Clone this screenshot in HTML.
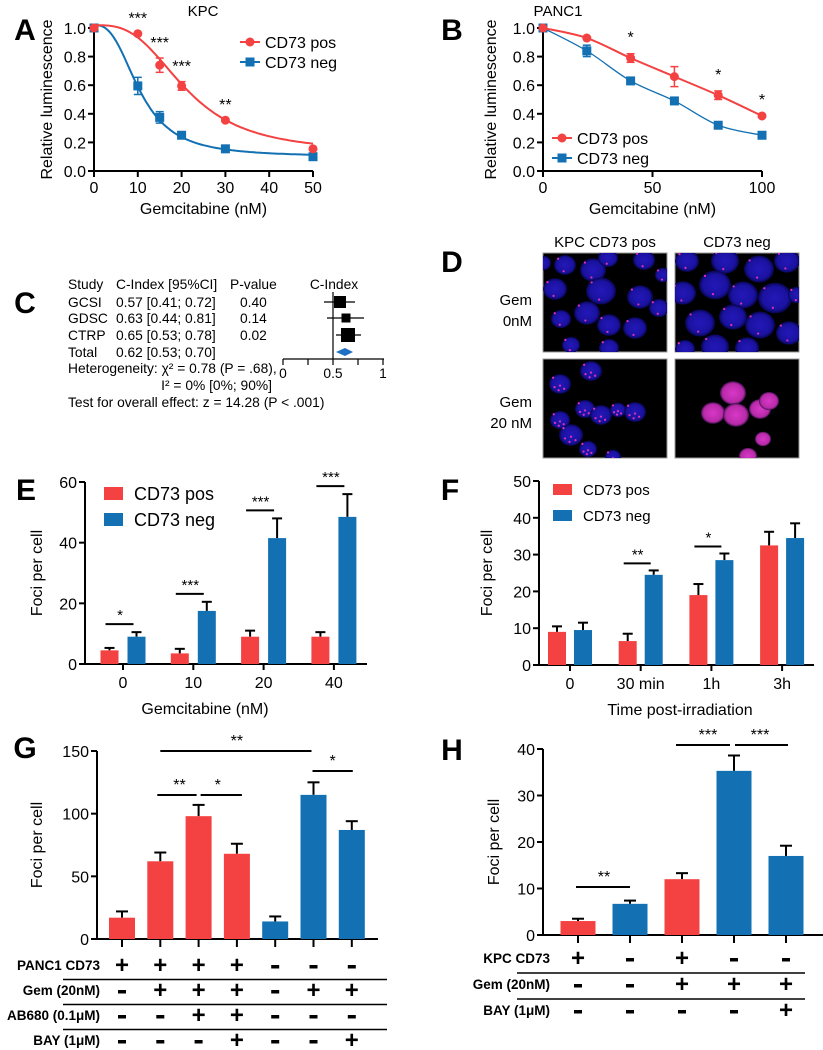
<!DOCTYPE html>
<html><head><meta charset="utf-8">
<style>
html,body{margin:0;padding:0;background:#fff;}
svg{display:block;font-family:"Liberation Sans",Arial,sans-serif;}
</style></head>
<body>
<svg id="fig" width="823" height="1050" viewBox="0 0 823 1050" xmlns="http://www.w3.org/2000/svg">
<defs>
<radialGradient id="gb"><stop offset="0" stop-color="#2418b8"/><stop offset="0.75" stop-color="#1a12a0"/><stop offset="1" stop-color="#080550"/></radialGradient>
<radialGradient id="gm"><stop offset="0" stop-color="#d838c8"/><stop offset="0.8" stop-color="#b82aa8"/><stop offset="1" stop-color="#401050"/></radialGradient>
<clipPath id="c0"><rect x="543" y="253" width="124" height="99"/></clipPath>
<clipPath id="c1"><rect x="675" y="253" width="124" height="99"/></clipPath>
<clipPath id="c2"><rect x="543" y="359" width="124" height="99"/></clipPath>
<clipPath id="c3"><rect x="675" y="359" width="124" height="99"/></clipPath>
</defs>
</svg>
<script>
// ---------- data ----------
const aDoses=[0,10,15,20,30,50];
const aPos=[1.0,0.96,0.74,0.595,0.355,0.155];
const aPosErr=[0,0,0.05,0.03,0,0];
const aNeg=[1.0,0.595,0.375,0.25,0.155,0.1];
const aNegErr=[0,0.06,0.04,0,0.02,0];
const aStars=['','***','***','***','**',''];
const aXTicks=[0,10,20,30,40,50];
const lumTicks=[0,0.2,0.4,0.6,0.8,1.0];
// fitted curve parameters [bottom, top, EC50, hill]
const aPosFit=[0.13,1.02,21,3];
const aNegFit=[0.1,1.02,10.5,2.7];

const bDoses=[0,20,40,60,80,100];
const bPos=[1.0,0.93,0.79,0.66,0.53,0.385];
const bPosErr=[0,0,0.03,0.07,0.03,0];
const bNeg=[1.0,0.84,0.63,0.49,0.32,0.25];
const bNegErr=[0,0.04,0,0,0,0];
const bStars=['','','*','','*','*'];
const bXTicks=[0,50,100];

const cStudies=['GCSI','GDSC','CTRP'];
const cEst=[0.57,0.63,0.65];
const cLo=[0.41,0.44,0.53];
const cHi=[0.72,0.81,0.78];
const cWeight=[12,9,14];
const cTotal=[0.62,0.53,0.70];

const eCats=['0','10','20','40'];
const ePos=[4.5,3.5,9,9];
const ePosErr=[0.8,1.5,2,1.5];
const eNeg=[9,17.5,41.5,48.5];
const eNegErr=[1.5,3,6.5,7.5];
const eStars=['*','***','***','***'];
const eTicks=[0,20,40,60];

const fCats=['0','30 min','1h','3h'];
const fPos=[9,6.5,19,32.5];
const fPosErr=[1.5,2,3,3.7];
const fNeg=[9.5,24.5,28.5,34.5];
const fNegErr=[2,1.2,1.8,4];
const fStars=['','**','*',''];
const fTicks=[0,10,20,30,40,50];

const gVals=[17,62,98,68,14,115,87];
const gErr=[5,7,9,8,4,10,7];
const gCol=['r','r','r','r','b','b','b'];
const gTicks=[0,50,100,150];
const gRowLabels=['PANC1 CD73','Gem (20nM)','AB680 (0.1\u03bcM)','BAY (1\u03bcM)'];
const gRows=[['+','+','+','+','-','-','-'],['-','+','+','+','-','+','+'],['-','-','+','+','-','-','-'],['-','-','-','+','-','-','+']];
const gSig=[[1,5,'**'],[5,6,'*'],[1,2,'**'],[2,3,'*']];

const hVals=[3,6.7,12,35.3,17];
const hErr=[0.5,0.7,1.3,3.3,2.2];
const hCol=['r','b','r','b','b'];
const hTicks=[0,10,20,30,40];
const hRowLabels=['KPC CD73','Gem (20nM)','BAY (1\u03bcM)'];
const hRows=[['+','-','+','-','-'],['-','-','+','+','+'],['-','-','-','-','+']];
const hSig=[[0,1,'**'],[2,3,'***'],[3,4,'***']];

// ---------- helpers ----------
const NS='http://www.w3.org/2000/svg';
const svg=document.getElementById('fig');
const RED='#f44141', BLUE='#1270b3';
function mk(tag,attrs,name,parent,txt){
  const el=document.createElementNS(NS,tag);
  for(const k in attrs) el.setAttribute(k,attrs[k]);
  
  
  if(txt!==undefined) el.textContent=txt;
  (parent||svg).appendChild(el);
  return el;
}
function grp(name){return mk('g',{},name);}
function line(p,x1,y1,x2,y2,name,w,c){return mk('line',{x1,y1,x2,y2,stroke:c||'#000','stroke-width':w||2},name,p);}
function text(p,x,y,s,name,size,anchor,extra){
  const a=Object.assign({x,y,'font-size':size||15,'text-anchor':anchor||'middle',fill:'#000'},extra||{});
  return mk('text',a,name,p,s);
}
function panelLetter(x,y,s){text(svg,x,y,s,'panel-label-'+s.toLowerCase(),30,'middle',{'font-weight':'bold'});}
function yAxis(p,x,ys,ticks,fmt,top,bottom){
  line(p,x,top,x,bottom,'y-axis-line');
  ticks.forEach(t=>{const y=ys(t);line(p,x-6,y,x,y,'y-tick');text(p,x-8,y+6,fmt(t),'y-tick-label',16,'end');});
}
function smooth(pts){
  let d='M'+pts[0][0]+','+pts[0][1];
  for(let i=0;i<pts.length-1;i++){
    const p0=pts[i-1]||pts[i],p1=pts[i],p2=pts[i+1],p3=pts[i+2]||p2;
    const c1=[p1[0]+(p2[0]-p0[0])/6,p1[1]+(p2[1]-p0[1])/6];
    const c2=[p2[0]-(p3[0]-p1[0])/6,p2[1]-(p3[1]-p1[1])/6];
    d+=' C'+c1+' '+c2+' '+p2;
  }
  return d;
}
function logistic(f,x){return f[0]+(f[1]-f[0])/(1+Math.pow(x/f[2],f[3]));}

// ---------- dose-response panels ----------
function doseResponse(opt){
  const p=grp(opt.name);
  const xs=v=>opt.x0+(v-opt.xmin)/(opt.xmax-opt.xmin)*(opt.x1-opt.x0);
  const ys=v=>opt.y0-v*(opt.y0-opt.y1);
  text(p,opt.titleX,16,opt.title,'chart-title',15);
  yAxis(p,opt.x0,ys,lumTicks,t=>t.toFixed(1),opt.y1-3,opt.y0);
  line(p,opt.x0,opt.y0,opt.x1,opt.y0,'x-axis-line');
  opt.xticks.forEach(t=>{line(p,xs(t),opt.y0,xs(t),opt.y0+6,'x-tick');text(p,xs(t),opt.y0+22,String(t),'x-tick-label',16);});
  text(p,(opt.x0+opt.x1)/2,opt.y0+43,'Gemcitabine (nM)','x-axis-title',16);
  text(p,0,0,'Relative luminescence','y-axis-title',16,'middle',{transform:'translate('+opt.ylx+','+((opt.y0+opt.y1)/2)+') rotate(-90)'});
  const series=[[opt.neg,opt.negErr,BLUE,'sq','neg',opt.negFit],[opt.pos,opt.posErr,RED,'ci','pos',opt.posFit]];
  series.forEach(([vals,err,col,shape,nm,fit])=>{
    let d;
    if(fit){
      d='';
      for(let k=0;k<=100;k++){const xv=opt.xmin+(opt.xmax-opt.xmin)*k/100;d+=(k?' L':'M')+xs(xv).toFixed(1)+','+ys(logistic(fit,xv)).toFixed(1);}
    } else d=smooth(opt.doses.map((dd,i)=>[xs(dd),ys(vals[i])]));
    mk('path',{d,fill:'none',stroke:col,'stroke-width':opt.thin&&nm==='neg'?1.3:2},'curve-'+nm,p);
    opt.doses.forEach((dd,i)=>{
      const x=xs(dd),y=ys(vals[i]);
      if(err[i]>0){const e=err[i]*(opt.y0-opt.y1);
        line(p,x,y-e,x,y+e,'error-bar-'+nm,1.5,col);line(p,x-4,y-e,x+4,y-e,'error-cap-'+nm,1.5,col);line(p,x-4,y+e,x+4,y+e,'error-cap-'+nm,1.5,col);}
      if(shape==='ci') mk('circle',{cx:x,cy:y,r:4.5,fill:col},'point-'+nm,p);
      else mk('rect',{x:x-4.5,y:y-4.5,width:9,height:9,fill:col},'point-'+nm,p);
    });
  });
  opt.doses.forEach((dd,i)=>{ if(opt.stars[i]){const top=ys(opt.pos[i]+opt.posErr[i]);text(p,xs(dd),top-opt.starGap,opt.stars[i],'significance-stars',16);} });
  const L=opt.leg;
  [[RED,'CD73 pos','ci',0],[BLUE,'CD73 neg','sq',1]].forEach(([col,lab,sh,k])=>{
    const y=L.y+k*L.dy;
    line(p,L.x,y,L.x+20,y,'legend-line',2,col);
    if(sh==='ci') mk('circle',{cx:L.x+10,cy:y,r:4.5,fill:col},'legend-marker',p);
    else mk('rect',{x:L.x+5.5,y:y-4.5,width:9,height:9,fill:col},'legend-marker',p);
    text(p,L.x+25,y+6,lab,'legend-label',16,'start');
  });
}
doseResponse({name:'panel-a-chart',title:'KPC',titleX:203,x0:94,x1:313,y0:171,y1:28,xmin:0,xmax:50,doses:aDoses,pos:aPos,posErr:aPosErr,neg:aNeg,negErr:aNegErr,posFit:aPosFit,negFit:aNegFit,stars:aStars,xticks:aXTicks,ylx:52,starGap:10,leg:{x:240,y:42,dy:20}});
doseResponse({name:'panel-b-chart',title:'PANC1',titleX:558,x0:543,x1:762,y0:171,y1:28,xmin:0,xmax:100,doses:bDoses,pos:bPos,posErr:bPosErr,neg:bNeg,negErr:bNegErr,stars:bStars,xticks:bXTicks,ylx:496,starGap:11,thin:true,leg:{x:552,y:138,dy:20}});
panelLetter(25,40,'A');panelLetter(452,40,'B');

// ---------- panel C forest ----------
(function(){
  const p=grp('panel-c-forest');
  panelLetter(25,313,'C');
  const fs=13.8;
  text(p,68,289,'Study','table-header',fs,'start');
  text(p,116,289,'C-Index [95%CI]','table-header',fs,'start');
  text(p,230,289,'P-value','table-header',fs,'start');
  text(p,334,289,'C-Index','table-header',fs,'middle');
  const rowsY=[307,323,340];
  const pv=['0.40','0.14','0.02'];
  const xs=v=>283+v*100;
  cStudies.forEach((s,i)=>{
    text(p,68,rowsY[i],s,'study-name',fs,'start');
    text(p,116,rowsY[i],cEst[i].toFixed(2)+' ['+cLo[i].toFixed(2)+'; '+cHi[i].toFixed(2)+']','study-ci',fs,'start');
    text(p,240,rowsY[i],pv[i],'study-p-value',fs,'start');
    const y=rowsY[i]-5;
    line(p,xs(cLo[i]),y,xs(cHi[i]),y,'ci-line',1.2);
    const w=cWeight[i];
    mk('rect',{x:xs(cEst[i])-w/2,y:y-w/2,width:w,height:w,fill:'#000'},'study-square',p);
  });
  text(p,68,357,'Total','study-name',fs,'start');
  text(p,116,357,cTotal[0].toFixed(2)+' ['+cTotal[1].toFixed(2)+'; '+cTotal[2].toFixed(2)+']','total-ci',fs,'start');
  const ty=352;
  mk('polygon',{points:[xs(cTotal[1]),ty,xs(cTotal[0]),ty-4,xs(cTotal[2]),ty,xs(cTotal[0]),ty+4].join(','),fill:'#1f6fc4'},'total-diamond',p);
  line(p,333,292,333,359,'reference-line',1.2);
  line(p,283,359,384,359,'forest-x-axis',1.2);
  [0,0.25,0.5,0.75,1].forEach(t=>line(p,xs(t),359,xs(t),365,'forest-tick',1.2));
  [[0,'0'],[0.5,'0.5'],[1,'1']].forEach(([t,s])=>text(p,xs(t),378,s,'forest-tick-label',fs));
  mk('text',{x:68,y:373,'font-size':fs},'heterogeneity-text',p,'Heterogeneity: \u03c7\u00b2 = 0.78 (P = .68),');
  text(p,272,390,'I\u00b2 = 0% [0%; 90%]','i2-text',fs,'end');
  text(p,68,407,'Test for overall effect: z = 14.28 (P < .001)','overall-effect-text',fs,'start');
})();

// ---------- panel D microscopy ----------
(function(){
  const p=grp('panel-d-images');
  panelLetter(452,272,'D');
  text(p,605,247,'KPC CD73 pos','column-label',15);
  text(p,737,247,'CD73 neg','column-label',15);
  text(p,532,305,'Gem','row-label',15,'end');text(p,532,326,'0nM','row-label',15,'end');
  text(p,532,407,'Gem','row-label',15,'end');text(p,532,428,'20 nM','row-label',15,'end');
  const boxes=[[543,253],[675,253],[543,359],[675,359]];
  boxes.forEach(([x,y],k)=>mk('rect',{x,y,width:124,height:99,fill:'#000',stroke:'#999','stroke-width':1},'micrograph-'+(k+1),p));
  const cells=[
   [[22,12,11],[50,17,13],[65,5,10],[101,7,11],[12,36,12],[58,38,15],[97,44,13],[44,60,13],[66,72,12],[116,55,10],[18,66,10],[92,75,12],[66,95,10],[28,92,9],[120,22,8],[0,10,8]],
   [[12,8,12],[50,8,14],[84,16,15],[112,8,13],[8,40,13],[40,32,16],[68,42,15],[100,45,17],[25,70,15],[58,64,14],[85,72,15],[114,80,13],[40,94,14],[72,95,12],[10,96,10],[122,42,9]],
   [[48,12,11],[17,25,11],[42,50,10],[58,56,11],[75,51,8],[92,53,11],[17,61,10],[28,76,12],[45,90,9],[70,98,8]],
   [[58,34,13],[38,54,12],[61,56,13],[85,50,11],[94,42,10],[88,80,8],[73,97,9]]
  ];
  cells.forEach((list,k)=>{
    const [bx,by]=boxes[k];
    const cg=mk('g',{'clip-path':'url(#c'+k+')'},'micrograph-content',p);
    list.forEach(([cx,cy,r])=>{
      const mag=k===3;
      mk('ellipse',{cx:bx+cx,cy:by+cy,rx:r,ry:r*0.9,fill:mag?'url(#gm)':'url(#gb)'},'nucleus',cg);
      const nd=k===2?5:(k<2?2:0);
      for(let j=0;j<nd;j++){
        mk('circle',{cx:bx+cx+((j*37)%11-5)*r/8,cy:by+cy+((j*53)%9-4)*r/7,r:1.1,fill:'#e030b8'},'focus-dot',cg);
      }
    });
  });
})();

// ---------- grouped bar panels E & F ----------
function grouped(opt){
  const p=grp(opt.name);
  const ys=v=>opt.y0-v/opt.ymax*(opt.y0-opt.y1);
  yAxis(p,opt.x0,ys,opt.ticks,String,opt.y1,opt.y0);
  line(p,opt.x0,opt.y0,opt.x1,opt.y0,'x-axis-line');
  text(p,0,0,'Foci per cell','y-axis-title',16,'middle',{transform:'translate('+opt.ylx+','+((opt.y0+opt.y1)/2)+') rotate(-90)'});
  text(p,opt.xlabelX,opt.y0+50,opt.xlabel,'x-axis-title',16);
  opt.cats.forEach((c,i)=>{
    const cx=opt.cx0+i*opt.step;
    line(p,cx,opt.y0,cx,opt.y0+6,'x-tick');
    text(p,cx,opt.y0+24,c,'x-tick-label',16);
    [[opt.pos,opt.posErr,RED,-1,'pos'],[opt.neg,opt.negErr,BLUE,1,'neg']].forEach(([v,e,col,sgn,nm])=>{
      const bx=cx+sgn*opt.off-opt.bw/2, y=ys(v[i]);
      const ye=ys(v[i]+e[i]);
      line(p,bx+opt.bw/2,ye,bx+opt.bw/2,y,'error-bar-'+nm,2);
      line(p,bx+opt.bw/2-5,ye,bx+opt.bw/2+5,ye,'error-cap-'+nm,2);
      mk('rect',{x:bx,y:y,width:opt.bw,height:opt.y0-y,fill:col},'bar-'+nm+'-'+c.replace(' ',''),p);
    });
    if(opt.stars[i]){
      const top=ys(opt.neg[i]+opt.negErr[i])-opt.sigGap;
      line(p,cx-opt.off-4,top,cx+opt.off-3,top,'significance-line',2);
      text(p,cx-3,top-4,opt.stars[i],'significance-stars',15);
    }
  });
  const L=opt.leg;
  [[RED,'CD73 pos',0],[BLUE,'CD73 neg',1]].forEach(([col,lab,k])=>{
    mk('rect',{x:L.x,y:L.y+k*L.dy,width:L.w,height:L.h,fill:col},'legend-swatch',p);
    text(p,L.x+L.w+11,L.y+k*L.dy+L.h,lab,'legend-label',L.fs,'start');
  });
}
grouped({name:'panel-e-chart',x0:85,x1:367,y0:664,y1:482,ymax:60,ticks:eTicks,cats:eCats,pos:ePos,posErr:ePosErr,neg:eNeg,negErr:eNegErr,stars:eStars,cx0:123,step:70.3,off:13.5,bw:18,ylx:42,xlabel:'Gemcitabine (nM)',xlabelX:205,sigGap:8,leg:{x:104,y:487,dy:26,w:19,h:13,fs:18}});
grouped({name:'panel-f-chart',x0:539,x1:814,y0:665,y1:481,ymax:50,ticks:fTicks,cats:fCats,pos:fPos,posErr:fPosErr,neg:fNeg,negErr:fNegErr,stars:fStars,cx0:570,step:70.7,off:13,bw:18,ylx:492,xlabel:'Time post-irradiation',xlabelX:680,sigGap:7,leg:{x:553,y:484,dy:26,w:19,h:11,fs:15}});
panelLetter(26,500,'E');panelLetter(450,500,'F');

// ---------- single bar panels G & H ----------
function single(opt){
  const p=grp(opt.name);
  const ys=v=>opt.y0-v/opt.ymax*(opt.y0-opt.y1);
  yAxis(p,opt.x0,ys,opt.ticks,String,opt.y1,opt.y0);
  line(p,opt.x0,opt.y0,opt.x1,opt.y0,'x-axis-line');
  text(p,0,0,'Foci per cell','y-axis-title',16,'middle',{transform:'translate('+opt.ylx+','+((opt.y0+opt.y1)/2)+') rotate(-90)'});
  const cx=i=>opt.cx0+i*opt.step;
  opt.vals.forEach((v,i)=>{
    const x=cx(i), y=ys(v), ye=ys(v+opt.err[i]);
    line(p,x,ye,x,y,'error-bar',2);
    line(p,x-6,ye,x+6,ye,'error-cap',2);
    mk('rect',{x:x-opt.bw/2,y,width:opt.bw,height:opt.y0-y,fill:opt.col[i]==='r'?RED:BLUE},'bar-'+(i+1),p);
    line(p,x,opt.y0,x,opt.y0+8,'x-tick');
  });
  opt.sig.forEach(([a,b,s],k)=>{
    const y=opt.sigY[k], pad=opt.sigPad[k];
    line(p,cx(a)+pad[0],y,cx(b)+pad[1],y,'significance-line',2);
    text(p,(cx(a)+cx(b))/2,y-5,s,'significance-stars',16);
  });
  opt.rows.forEach((r,k)=>{
    const y=opt.rowY0+k*opt.rowDy;
    text(p,opt.labelX,y+5,opt.labels[k],'condition-label',13.5,'end',{'font-weight':'bold'});
    r.forEach((s,i)=>{
      if(s==='+') text(p,cx(i),y+8,'+','condition-plus',24,'middle',{'font-weight':'bold'});
      else mk('rect',{x:cx(i)-4,y:y,width:8,height:3.5,fill:'#000'},'condition-minus',p);
    });
    if(k<opt.rows.length-1) line(p,opt.lineX0,y+opt.rowDy/2+2,opt.lineX1,y+opt.rowDy/2+2,'row-separator',1.5);
  });
}
single({name:'panel-g-chart',x0:97,x1:378,y0:939,y1:751,ymax:150,ticks:gTicks,vals:gVals,err:gErr,col:gCol,cx0:122,step:38.3,bw:26,ylx:42,
  sig:gSig,sigY:[751,771,795,795],sigPad:[[0,-2],[-1,1],[-3,-2],[2,5]],rows:gRows,labels:gRowLabels,rowY0:965,rowDy:25,labelX:100,lineX0:63,lineX1:387});
single({name:'panel-h-chart',x0:543,x1:823,y0:935,y1:749,ymax:40,ticks:hTicks,vals:hVals,err:hErr,col:hCol,cx0:578,step:52,bw:35,ylx:499,
  sig:hSig,sigY:[887,745,745],sigPad:[[-2,0],[-6,-4],[1,2]],rows:hRows,labels:hRowLabels,rowY0:958,rowDy:26,labelX:550,lineX0:517,lineX1:805});
panelLetter(25,758,'G');panelLetter(452,760,'H');
</script>
</body></html>
